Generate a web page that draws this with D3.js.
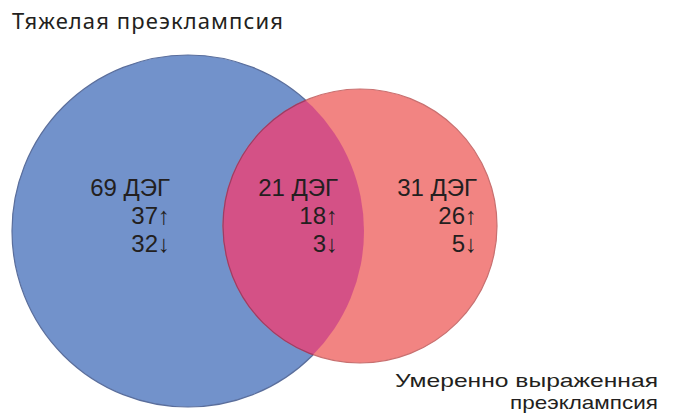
<!DOCTYPE html>
<meta charset="utf-8">
<head>
<style>
body { margin: 0; background: #fff; }
text { font-family: "Liberation Sans", Arial, sans-serif; fill: #231f20; }
text.title { font-family: "Noto Sans", "Open Sans", sans-serif; }
</style>
</head>
<body>
<div id="venn"></div>
<script src="https://d3js.org/d3.v7.min.js"></script>
<script>
// data
const regions = ["severe", "both", "moderate"];
const degTotal = [69, 21, 31];
const degUp = [37, 18, 26];
const degDown = [32, 3, 5];
const setNames = ["Тяжелая преэклампсия", "Умеренно выраженная", "преэклампсия"];

const width = 675, height = 419;

const svg = d3.select("#venn").append("svg")
  .attr("width", width)
  .attr("height", height);

// circle geometry
const circles = [
  {id: "severe", cx: 188, cy: 231, r: 176, fill: "#7292cb"},
  {id: "moderate", cx: 360, cy: 226, r: 137, fill: "#f28482"}
];

const defs = svg.append("defs");
defs.append("clipPath").attr("id", "clipBlue")
  .append("circle")
  .attr("cx", circles[0].cx).attr("cy", circles[0].cy).attr("r", circles[0].r);

svg.selectAll("circle.set")
  .data(circles)
  .enter()
  .append("circle")
  .attr("class", "set")
  .attr("cx", d => d.cx)
  .attr("cy", d => d.cy)
  .attr("r", d => d.r)
  .attr("fill", d => d.fill)
  .attr("stroke", d => d.id == "severe" ? "#5a6e9c" : "#c87070")
  .attr("stroke-width", 1.2);

// overlap
svg.append("circle")
  .attr("cx", circles[1].cx).attr("cy", circles[1].cy).attr("r", circles[1].r)
  .attr("clip-path", "url(#clipBlue)")
  .attr("fill", "#d45186")
  .attr("stroke", "#9c3d66")
  .attr("stroke-width", 1.2);

// label anchors (right edge of each text block)
const xRight = d3.scaleOrdinal().domain(regions).range([170, 338, 477]);
const lineY = d3.scaleLinear().domain([0, 2]).range([196, 252]);

const g = svg.selectAll("g.lbl")
  .data(regions)
  .enter()
  .append("g")
  .attr("class", "lbl");

g.append("text")
  .attr("x", d => xRight(d))
  .attr("y", lineY(0))
  .attr("text-anchor", "end")
  .attr("font-size", 24)
  .text((d, i) => degTotal[i] + " ДЭГ");

g.append("text")
  .attr("x", d => xRight(d))
  .attr("y", lineY(1))
  .attr("text-anchor", "end")
  .attr("font-size", 24)
  .text((d, i) => degUp[i] + "\u2191");

g.append("text")
  .attr("x", d => xRight(d))
  .attr("y", lineY(2))
  .attr("text-anchor", "end")
  .attr("font-size", 24)
  .text((d, i) => degDown[i] + "\u2193");

// set titles
svg.append("text")
  .attr("class", "title")
  .attr("x", 12).attr("y", 29)
  .attr("font-size", 22)
  .attr("textLength", 271)
  .text(setNames[0]);

svg.append("text")
  .attr("x", 395).attr("y", 387)
  .attr("font-size", 19)
  .attr("textLength", 263)
  .attr("lengthAdjust", "spacingAndGlyphs")
  .text(setNames[1]);

svg.append("text")
  .attr("x", 510).attr("y", 409)
  .attr("font-size", 19)
  .attr("textLength", 148)
  .attr("lengthAdjust", "spacingAndGlyphs")
  .text(setNames[2]);
</script>
</body>
